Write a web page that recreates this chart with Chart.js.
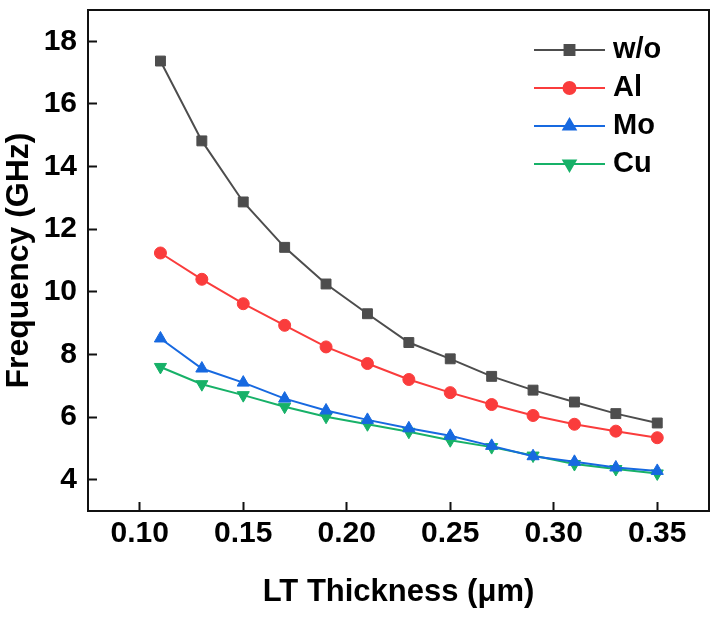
<!DOCTYPE html>
<html>
<head>
<meta charset="utf-8">
<script src="https://cdn.jsdelivr.net/npm/chart.js@4/dist/chart.umd.min.js"></script>
<style>
  html, body { margin: 0; padding: 0; background: #fff; }
  #wrap { width: 717px; height: 620px; }
</style>
</head>
<body>
<div id="wrap"><canvas id="myChart" width="717" height="620"></canvas></div>
<script>
// data
var thickness = [0.11, 0.13, 0.15, 0.17, 0.19, 0.21, 0.23, 0.25, 0.27, 0.29, 0.31, 0.33, 0.35];
var woFreq = [17.37, 14.82, 12.87, 11.42, 10.25, 9.30, 8.38, 7.86, 7.30, 6.86, 6.48, 6.11, 5.81];
var alFreq = [11.24, 10.40, 9.62, 8.93, 8.24, 7.71, 7.20, 6.78, 6.40, 6.05, 5.77, 5.55, 5.34];
var moFreq = [8.51, 7.55, 7.10, 6.59, 6.21, 5.91, 5.64, 5.40, 5.08, 4.75, 4.57, 4.39, 4.28];
var cuFreq = [7.60, 7.05, 6.70, 6.33, 6.01, 5.77, 5.53, 5.26, 5.04, 4.77, 4.50, 4.34, 4.20];
var seriesNames = ["w/o", "Al", "Mo", "Cu"];
var xTicks = [0.10, 0.15, 0.20, 0.25, 0.30, 0.35];
var yTicks = [4, 6, 8, 10, 12, 14, 16, 18];

var FONT = '"Liberation Sans", Arial, sans-serif';
Chart.defaults.font.family = FONT;
Chart.defaults.font.weight = "bold";
Chart.defaults.color = "#000";

function toPoints(values) {
  return values.map(function (v, i) { return { x: thickness[i], y: v }; });
}

function makeSet(label, values, color, style, radius, rotation) {
  return {
    label: label,
    data: toPoints(values),
    borderColor: color,
    backgroundColor: color,
    borderWidth: 2,
    pointStyle: style,
    pointRadius: radius,
    pointHoverRadius: radius,
    pointRotation: rotation || 0,
    pointBorderWidth: 1,
    tension: 0
  };
}

var datasets = [
  makeSet(seriesNames[0], woFreq, "#4d4d4d", "rect", 7),
  makeSet(seriesNames[1], alFreq, "#fa3c3c", "circle", 6),
  makeSet(seriesNames[2], moFreq, "#1769e0", "triangle", 7),
  makeSet(seriesNames[3], cuFreq, "#17b168", "triangle", 7, 180)
];

// frame on top/right + legend inside plot
var framePlugin = {
  id: "frame",
  afterDatasetsDraw: function (chart) {
    var ctx = chart.ctx;
    var a = chart.chartArea;
    ctx.save();
    ctx.strokeStyle = "#111";
    ctx.lineWidth = 2;
    ctx.beginPath();
    ctx.moveTo(a.left, a.top);
    ctx.lineTo(a.right, a.top);
    ctx.lineTo(a.right, a.bottom);
    ctx.stroke();

    chart.data.datasets.forEach(function (ds, i) {
      var y = a.top + 40 + i * 38;
      var x0 = a.right - 175;
      var x1 = a.right - 104;
      ctx.strokeStyle = ds.borderColor;
      ctx.lineWidth = 2;
      ctx.beginPath();
      ctx.moveTo(x0, y);
      ctx.lineTo(x1, y);
      ctx.stroke();
      ctx.fillStyle = ds.backgroundColor;
      Chart.helpers.drawPoint(ctx, {
        pointStyle: ds.pointStyle,
        radius: ds.pointRadius,
        rotation: ds.pointRotation,
        borderWidth: 1
      }, (x0 + x1) / 2, y);
      ctx.fillStyle = "#000";
      ctx.font = "bold 29px " + FONT;
      ctx.textAlign = "left";
      ctx.textBaseline = "middle";
      ctx.fillText(ds.label, a.right - 96, y);
    });
    ctx.restore();
  }
};

var ctx = document.getElementById("myChart");
var chart = new Chart(ctx, {
  type: "line",
  data: { datasets: datasets },
  options: {
    responsive: false,
    animation: false,
    layout: { padding: { top: 10, right: 8, left: 0, bottom: 0 } },
    plugins: {
      legend: { display: false },
      tooltip: { enabled: false }
    },
    scales: {
      x: {
        type: "linear",
        min: 0.075,
        max: 0.375,
        afterBuildTicks: function (scale) {
          scale.ticks = xTicks.map(function (v) { return { value: v }; });
        },
        afterFit: function (scale) {
          scale.height = 109;
          scale.paddingLeft = 0;
          scale.paddingRight = 0;
        },
        ticks: {
          font: { size: 30, weight: "bold" },
          padding: 14,
          maxRotation: 0,
          callback: function (v) { return v.toFixed(2); }
        },
        grid: { drawOnChartArea: false, drawTicks: true, tickLength: -9, tickWidth: 2, tickColor: "#111" },
        border: { color: "#111", width: 2 },
        title: {
          display: true,
          text: "LT Thickness (μm)",
          font: { size: 31, weight: "bold" },
          padding: { top: 0, bottom: 9 }
        }
      },
      y: {
        min: 3,
        max: 19,
        afterBuildTicks: function (scale) {
          scale.ticks = yTicks.map(function (v) { return { value: v }; });
        },
        afterFit: function (scale) {
          scale.width = 88;
          scale.paddingTop = 0;
          scale.paddingBottom = 0;
        },
        ticks: {
          font: { size: 30, weight: "bold" },
          padding: 20
        },
        grid: { drawOnChartArea: false, drawTicks: true, tickLength: -9, tickWidth: 2, tickColor: "#111" },
        border: { color: "#111", width: 2 },
        title: {
          display: true,
          text: "Frequency (GHz)",
          font: { size: 32, weight: "bold" },
          padding: { top: 0, bottom: 0 }
        }
      }
    }
  },
  plugins: [framePlugin]
});
</script>
</body>
</html>
